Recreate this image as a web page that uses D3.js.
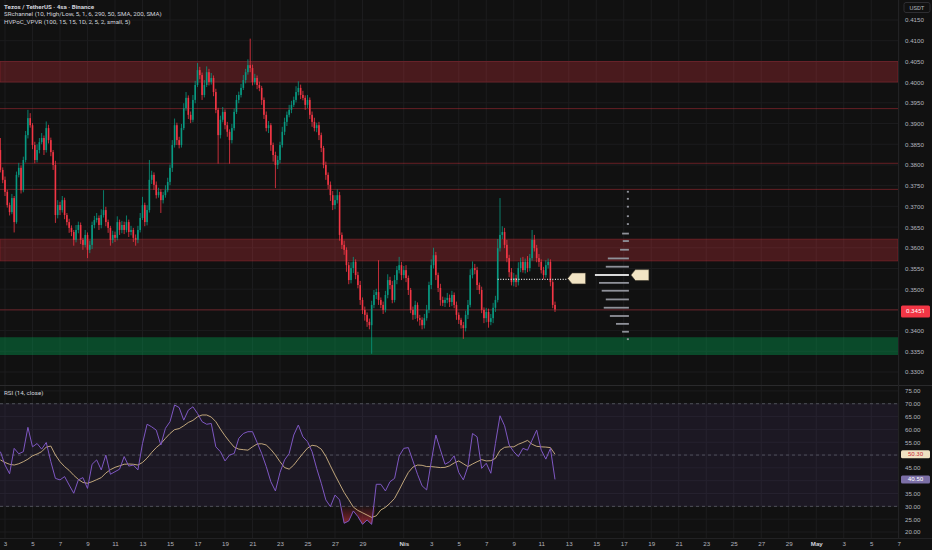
<!DOCTYPE html>
<html>
<head>
<meta charset="utf-8">
<script src="https://cdn.jsdelivr.net/npm/d3@7"></script>
<style>
  html, body { margin: 0; padding: 0; background: #111111; }
  svg { display: block; font-family: Roboto, "DejaVu Sans", sans-serif; }
</style>
</head>
<body>
<svg id="chart" width="932" height="550"></svg>
<script>
/* ── Data (prices in 1e-4 USDT) ─────────────────────────── */
const FIRST_BAR = Date.UTC(2025, 2, 2, 16);   // first 4h candle
const BAR_MS    = 4 * 3600e3;
const FIRST_OPEN = 3836;

const closes = [
  3788,3764,3735,3703,3686,3720,3662,3776,3793,3739,
  3812,3872,3913,3896,3848,3812,3836,3855,3865,3836,
  3889,3860,3831,3800,3679,3703,3691,3715,3679,3662,
  3648,3638,3619,3643,3655,3619,3607,3631,3595,3607,
  3655,3667,3672,3655,3679,3691,3662,3648,3619,3631,
  3624,3662,3643,3655,3643,3662,3638,3643,3624,3619,
  3643,3672,3703,3662,3691,3764,3776,3752,3727,3735,
  3715,3727,3739,3759,3793,3848,3896,3860,3848,3889,
  3937,3962,3921,3909,3957,3993,4029,4017,3969,3993,
  4024,4000,4010,3976,3933,3872,3909,3928,3896,3880,
  3860,3889,3928,3957,3969,3986,4005,4024,4041,4034,
  4000,4010,3993,3986,3957,3921,3889,3896,3848,3824,
  3800,3812,3848,3880,3904,3921,3933,3945,3957,3976,
  3986,3969,3962,3945,3957,3921,3904,3889,3896,3872,
  3841,3800,3776,3752,3727,3703,3715,3727,3631,3607,
  3595,3558,3522,3551,3566,3534,3510,3474,3450,3438,
  3421,3413,3462,3486,3493,3474,3462,3450,3486,3522,
  3510,3474,3522,3546,3558,3534,3546,3527,3498,3450,
  3438,3462,3430,3426,3413,3430,3450,3510,3558,3582,
  3534,3503,3474,3467,3474,3479,3469,3486,3462,3438,
  3426,3413,3406,3438,3462,3534,3551,3546,3510,3498,
  3450,3430,3445,3421,3430,3455,3474,3599,3631,3638,
  3607,3575,3541,3517,3527,3517,3551,3566,3546,3566,
  3551,3575,3619,3599,3575,3566,3546,3534,3558,3566,
  3517,3462,3451
];

// wick length above / below the body
const wickUp = [
  29,6,8,5,6,10,5,8,12,6,   8,10,20,12,5,8,14,10,12,6,
  16,8,6,5,10,12,8,10,6,5,  8,6,5,12,8,6,5,12,6,10,
  8,10,12,6,14,48,8,6,5,10, 8,14,6,10,8,16,6,10,5,8,
  10,12,20,6,12,48,10,6,8,10, 6,8,12,10,8,12,16,6,8,10,
  12,14,6,8,12,10,17,8,6,12, 14,8,12,6,8,5,10,12,6,8,
  6,10,8,12,8,10,12,8,14,64, 8,10,6,8,5,6,8,10,5,6,
  8,10,8,12,10,8,12,10,8,14, 16,8,10,6,12,6,8,10,6,8,
  6,5,8,6,8,10,12,14,8,6,   10,6,8,14,12,6,8,10,6,8,
  6,8,10,12,8,77,6,8,10,14, 8,10,12,10,20,8,10,12,6,5,
  8,10,6,8,6,10,12,8,14,18, 8,6,10,8,6,12,8,10,6,8,
  6,5,8,10,12,14,16,10,8,6, 8,6,10,8,10,12,10,22,89,14,
  10,12,8,10,12,8,14,10,12,8, 14,10,24,12,8,10,6,8,12,8,
  6,5,8
];
const wickDn = [
  6,8,10,6,8,5,25,4,6,8,    5,6,8,6,10,8,6,8,5,12,
  6,8,10,12,19,8,12,6,10,8, 12,10,14,6,8,10,12,6,20,8,
  10,8,6,12,8,6,10,12,14,8, 10,6,12,8,10,6,12,8,10,14,
  8,6,5,10,8,6,10,12,8,6,   31,8,6,5,8,10,6,12,8,6,
  5,6,10,8,6,8,5,10,12,6,   5,8,6,10,8,69,8,6,10,12,
  57,8,6,5,8,6,5,8,6,10,    8,6,10,8,12,10,8,12,14,16,
  56,10,8,6,8,10,6,8,5,6,   8,10,6,12,8,10,12,8,10,12,
  10,8,12,10,14,12,10,8,14,10, 12,16,10,8,12,10,8,12,10,14,
  12,10,69,8,10,12,8,10,6,8, 10,8,6,10,8,12,8,10,12,8,
  12,10,8,14,10,8,6,8,10,8, 12,10,14,8,10,8,12,10,8,12,
  10,8,26,8,10,6,8,10,12,10, 8,12,10,14,8,12,10,6,8,10,
  8,10,12,8,10,12,8,10,6,8, 10,8,6,8,10,12,8,10,6,8,
  10,8,6
];

// RSI(14) and its moving average, read at every second candle
const rsiVals = [
  51.3,46.1,42.7,52.6,50.5,51.3,60.8,53.2,54.5,52.3,
  54.9,47.4,40.9,40.3,41.6,38.3,35.1,40.3,41.2,37.0,
  46.4,48.1,44.2,50.0,42.5,43.5,44.5,49.4,45.7,46.1,
  44.2,54.5,62.0,61.0,59.7,53.9,60.4,63.0,69.5,68.5,
  63.6,67.5,68.8,66.2,63.0,62.0,62.3,53.2,51.3,47.7,
  50.0,50.6,56.5,58.4,59.1,59.1,54.9,50.6,45.5,39.6,
  36.0,43.2,48.1,50.6,57.8,61.7,57.1,55.2,51.3,44.8,
  39.0,32.5,29.9,34.4,32.5,23.4,24.3,28.2,26.0,23.0,
  24.7,23.0,38.6,38.6,36.0,39.6,40.9,49.6,52.6,52.9,
  47.7,42.5,38.0,36.4,47.4,57.8,52.0,46.4,47.4,49.7,
  43.2,40.3,45.5,58.4,57.1,44.8,46.8,42.9,54.5,65.3,
  61.4,53.9,51.3,49.4,52.6,51.9,55.8,59.7,51.9,48.4,
  52.6,40.5
];
const rsiMa = [
  48.1,47.1,46.4,46.1,46.6,47.4,48.4,49.7,50.4,51.3,
  53.1,53.5,50.0,47.4,45.5,44.0,42.1,40.5,39.3,39.0,
  39.6,40.4,41.2,43.0,44.3,45.2,45.8,46.4,46.5,46.4,
  46.1,47.1,48.8,51.0,52.9,54.4,56.5,58.4,59.9,60.3,
  61.4,62.7,63.5,64.9,65.6,65.6,64.8,63.0,60.1,57.5,
  55.2,53.1,52.3,52.1,51.9,53.2,54.3,54.4,53.9,52.2,
  50.0,47.4,45.1,44.5,46.1,48.4,50.6,52.7,53.8,53.5,
  52.3,49.5,45.8,42.2,38.8,35.4,32.6,29.7,28.4,27.5,
  26.6,25.7,26.3,28.6,29.6,31.2,33.1,36.4,39.9,43.2,
  45.3,46.1,46.0,45.5,45.5,45.3,45.1,45.2,45.8,46.9,
  47.7,46.6,45.5,46.5,47.4,48.2,47.7,47.8,48.7,51.8,
  53.0,53.2,53.2,54.2,54.9,55.7,54.2,53.4,53.2,53.1,
  52.9,50.3
];

// SR channel zones and lines
const resZones = [[0.4050, 0.4000], [0.3621, 0.3568]];
const supZones = [[0.3384, 0.3341]];
const srLines  = [0.3936, 0.3804, 0.3741, 0.3450];

// volume profile
const vpPrices = [0.3735,0.3718,0.3699,0.3676,0.3657,0.3634,0.3616,0.3595,0.3574,0.3554,
                  0.3534,0.3515,0.3496,0.3475,0.3455,0.3435,0.3416,0.3397,0.3379];
const vpVols   = [6,6,6,6,6,20,18,26,62,68,100,88,80,68,74,56,38,20,6];
const vpAnchor = Date.UTC(2025, 3, 17, 9);
const hvLevel  = { price: 0.3526, from: 217, to: Date.UTC(2025, 3, 12, 22) };

const monthNames = ["Oca","Şub","Mar","Nis","May","Haz","Tem","Ağu","Eyl","Eki","Kas","Ara"];
const priceTicks = d3.range(3300, 4151, 50).map(v => v / 1e4);
const rsiTicks   = d3.range(20, 76, 5);
const headerLines = [
  "Tezos / TetherUS · 4sa · Binance",
  "SRchannel (10, High/Low, 5, 1, 6, 290, 50, SMA, 200, SMA)",
  "HVPoC_VPVR (100, 15, 15, 1D, 2, 5, 2, small, 5)"
];

/* ── Layout ─────────────────────────────────────────────── */
const PLOT_R = 898;
const MAIN_B = 385, RSI_T = 386, RSI_B = 538;
const UP = '#089981', DOWN = '#f23645';
const GRID = '#1c1c1e', AXIS_TXT = '#b2b5be';

const svg = d3.select('#chart');
const barTime = i => new Date(FIRST_BAR + i * BAR_MS);

const x  = d3.scaleUtc().domain([Date.UTC(2025, 2, 3), Date.UTC(2025, 4, 7)]).range([5, 898.75]);
const y  = d3.scaleLinear().domain([0.4150, 0.3300]).range([20, 372]);
const yR = d3.scaleLinear().domain([75, 20]).range([390.9, 532]);

const candles = closes.map((c, i) => {
  const o = i === 0 ? FIRST_OPEN : closes[i - 1];
  return {
    t: barTime(i),
    o: o / 1e4, c: c / 1e4,
    h: (Math.max(o, c) + wickUp[i]) / 1e4,
    l: (Math.min(o, c) - wickDn[i]) / 1e4
  };
});
const rsiPts = rsiVals.map((v, k) => ({ t: barTime(k * 2), v, m: rsiMa[k] }));

const timeTicks = d3.utcDay.range(new Date(Date.UTC(2025, 2, 3)), new Date(Date.UTC(2025, 4, 8)))
  .filter(d => d.getUTCDate() === 1 || (d.getUTCDate() % 2 === 1 && d.getUTCDate() <= 29));

// last values shown as tags on the scales; tick labels under them are hidden
const lastClose = candles[candles.length - 1].c;
const lastMa    = rsiMa[rsiMa.length - 1];
const lastRsi   = rsiVals[rsiVals.length - 1];
const priceTagY = y(lastClose) + 2;
const rsiTagYs  = [yR(lastMa), yR(lastRsi)];
const priceLabelTicks = priceTicks.filter(p => Math.abs(y(p) - priceTagY) > 8);
const rsiLabelTicks   = rsiTicks.filter(v => rsiTagYs.every(ty => Math.abs(yR(v) - ty) > 6));

const defs = svg.append('defs');
defs.append('clipPath').attr('id', 'clip-main')
  .append('rect').attr('x', 0).attr('y', 0).attr('width', PLOT_R).attr('height', MAIN_B);
defs.append('clipPath').attr('id', 'clip-rsi')
  .append('rect').attr('x', 0).attr('y', RSI_T).attr('width', PLOT_R).attr('height', RSI_B - RSI_T);
const grad = defs.append('linearGradient').attr('id', 'os-grad')
  .attr('x1', 0).attr('y1', 0).attr('x2', 0).attr('y2', 1);
grad.append('stop').attr('offset', '0%').attr('stop-color', DOWN).attr('stop-opacity', 0.05);
grad.append('stop').attr('offset', '100%').attr('stop-color', DOWN).attr('stop-opacity', 0.55);

svg.append('rect').attr('width', 932).attr('height', 550).attr('fill', '#111111');

/* ── Grid ───────────────────────────────────────────────── */
const grid = svg.append('g');
grid.selectAll('.vg').data(timeTicks).enter().append('line')
  .attr('x1', d => x(d)).attr('x2', d => x(d))
  .attr('y1', 0).attr('y2', RSI_B)
  .attr('stroke', GRID).attr('stroke-width', 1);
grid.selectAll('.hg').data(priceTicks).enter().append('line')
  .attr('x1', 0).attr('x2', PLOT_R)
  .attr('y1', d => y(d)).attr('y2', d => y(d))
  .attr('stroke', GRID);
grid.selectAll('.rg').data(rsiTicks).enter().append('line')
  .attr('x1', 0).attr('x2', PLOT_R)
  .attr('y1', d => yR(d)).attr('y2', d => yR(d))
  .attr('stroke', GRID);

/* ── Main pane ──────────────────────────────────────────── */
const main = svg.append('g').attr('clip-path', 'url(#clip-main)');

main.selectAll('.rz').data(resZones).enter().append('rect')
  .attr('x', 0).attr('width', PLOT_R)
  .attr('y', d => y(d[0])).attr('height', d => y(d[1]) - y(d[0]))
  .attr('fill', 'rgba(242,54,69,0.25)')
  .attr('stroke', 'rgba(242,54,69,0.3)').attr('stroke-width', 0.8);
main.selectAll('.sz').data(supZones).enter().append('rect')
  .attr('x', 0).attr('width', PLOT_R)
  .attr('y', d => y(d[0])).attr('height', d => y(d[1]) - y(d[0]))
  .attr('fill', 'rgba(0,160,80,0.4)');
main.selectAll('.sl').data(srLines).enter().append('line')
  .attr('x1', 0).attr('x2', PLOT_R)
  .attr('y1', d => y(d)).attr('y2', d => y(d))
  .attr('stroke', 'rgba(242,54,69,0.38)').attr('stroke-width', 1);

// candles
const cg = main.append('g');
cg.selectAll('.wick').data(candles).enter().append('line')
  .attr('x1', d => x(d.t)).attr('x2', d => x(d.t))
  .attr('y1', d => y(d.h)).attr('y2', d => y(d.l))
  .attr('stroke', d => d.c >= d.o ? UP : DOWN).attr('stroke-width', 0.8);
cg.selectAll('.body').data(candles).enter().append('rect')
  .attr('x', d => x(d.t) - 0.8).attr('width', 1.6)
  .attr('y', d => y(Math.max(d.o, d.c)))
  .attr('height', d => Math.max(0.8, Math.abs(y(d.o) - y(d.c))))
  .attr('fill', d => d.c >= d.o ? UP : DOWN);

// high-volume level (dotted) with its tag
const tagPath = (tx, ty) => `M${tx},${ty} L${tx + 4.5},${ty - 5.5} L${tx + 18},${ty - 5.5} L${tx + 18},${ty + 5.5} L${tx + 4.5},${ty + 5.5} Z`;
const hvY = y(hvLevel.price);
main.append('line')
  .attr('x1', x(barTime(hvLevel.from))).attr('x2', x(new Date(hvLevel.to)))
  .attr('y1', hvY + 1).attr('y2', hvY + 1)
  .attr('stroke', '#e6e6e6').attr('stroke-width', 1.2).attr('stroke-dasharray', '1,1.6');
main.append('path').attr('d', tagPath(x(new Date(hvLevel.to)), hvY))
  .attr('fill', '#f2e4c4').attr('stroke', '#3a3428').attr('stroke-width', 0.6);

// volume profile
const vpW = d3.scaleLinear().domain([0, d3.max(vpVols)]).range([0, 34]);
const vpX = x(new Date(vpAnchor));
const pocIdx = vpVols.indexOf(d3.max(vpVols));
main.selectAll('.vp').data(vpPrices).enter().append('rect')
  .attr('x', (d, i) => vpX - vpW(vpVols[i])).attr('width', (d, i) => vpW(vpVols[i]))
  .attr('y', d => y(d) - 1).attr('height', 1.8)
  .attr('fill', (d, i) => i === pocIdx ? '#f0f0f0' : '#8f9199');
main.append('path').attr('d', tagPath(vpX + 2, y(vpPrices[pocIdx])))
  .attr('fill', '#f2e4c4').attr('stroke', '#3a3428').attr('stroke-width', 0.6);

/* ── RSI pane ───────────────────────────────────────────── */
const rsi = svg.append('g').attr('clip-path', 'url(#clip-rsi)');
rsi.append('rect').attr('x', 0).attr('width', PLOT_R)
  .attr('y', yR(70)).attr('height', yR(30) - yR(70))
  .attr('fill', 'rgba(126,87,194,0.1)');
rsi.selectAll('.lvl').data([70, 50, 30]).enter().append('line')
  .attr('x1', 0).attr('x2', PLOT_R)
  .attr('y1', d => yR(d)).attr('y2', d => yR(d))
  .attr('stroke', '#787b86').attr('stroke-opacity', 0.55)
  .attr('stroke-dasharray', '3,3');

const osArea = d3.area()
  .x(d => x(d.t)).y0(yR(30)).y1(d => yR(Math.min(d.v, 30)));
rsi.append('path').datum(rsiPts).attr('d', osArea).attr('fill', 'url(#os-grad)');
const obArea = d3.area()
  .x(d => x(d.t)).y0(yR(70)).y1(d => yR(Math.max(d.v, 70)));
rsi.append('path').datum(rsiPts).attr('d', obArea).attr('fill', 'rgba(8,153,129,0.4)');

rsi.append('path').datum(rsiPts)
  .attr('d', d3.line().x(d => x(d.t)).y(d => yR(d.m)))
  .attr('fill', 'none').attr('stroke', '#d2b584').attr('stroke-width', 0.9);
rsi.append('path').datum(rsiPts)
  .attr('d', d3.line().x(d => x(d.t)).y(d => yR(d.v)))
  .attr('fill', 'none').attr('stroke', '#7e57c2').attr('stroke-width', 1);

/* ── Separators ─────────────────────────────────────────── */
svg.append('line').attr('x1', 0).attr('x2', 932).attr('y1', MAIN_B + 0.5).attr('y2', MAIN_B + 0.5)
  .attr('stroke', '#2a2a2c');
svg.append('line').attr('x1', 0).attr('x2', 932).attr('y1', RSI_B + 0.5).attr('y2', RSI_B + 0.5)
  .attr('stroke', '#222224');
svg.append('line').attr('x1', PLOT_R + 0.5).attr('x2', PLOT_R + 0.5).attr('y1', 0).attr('y2', RSI_B)
  .attr('stroke', '#222224');

/* ── Axes ───────────────────────────────────────────────── */
function styleAxis(g) {
  g.select('.domain').remove();
  g.selectAll('.tick line').remove();
  g.selectAll('.tick text').attr('fill', AXIS_TXT).attr('font-size', 6.2);
}
svg.append('g').attr('transform', `translate(${PLOT_R + 4},0)`)
  .call(d3.axisRight(y).tickValues(priceLabelTicks).tickFormat(d3.format('.4f')).tickSize(0).tickPadding(3))
  .call(styleAxis);
svg.append('g').attr('transform', `translate(${PLOT_R + 4},0)`)
  .call(d3.axisRight(yR).tickValues(rsiLabelTicks).tickFormat(d3.format('.2f')).tickSize(0).tickPadding(3))
  .call(styleAxis);
svg.append('g').attr('transform', `translate(0,${RSI_B + 1})`)
  .call(d3.axisBottom(x).tickValues(timeTicks).tickSize(0).tickPadding(3)
    .tickFormat(d => d.getUTCDate() === 1 ? monthNames[d.getUTCMonth()] : d.getUTCDate()))
  .call(styleAxis)
  .call(g => g.selectAll('.tick text')
    .attr('font-weight', d => d.getUTCDate() === 1 ? 'bold' : null)
    .attr('fill', d => d.getUTCDate() === 1 ? '#d1d4dc' : AXIS_TXT));

/* ── Axis value labels ──────────────────────────────────── */
function axisTag(cy, text, bg, fg, h) {
  const g = svg.append('g');
  g.append('rect').attr('x', PLOT_R + 3).attr('y', cy - h / 2).attr('width', 29).attr('height', h)
    .attr('rx', 1.5).attr('fill', bg);
  g.append('text').attr('x', PLOT_R + 17.5).attr('y', cy).attr('text-anchor', 'middle')
    .attr('dominant-baseline', 'central').attr('font-size', 6.2).attr('fill', fg).text(text);
}
axisTag(priceTagY, d3.format('.4f')(lastClose), DOWN, '#ffffff', 12);
axisTag(rsiTagYs[0], d3.format('.2f')(lastMa), '#efe1c2', '#c8313f', 8);
axisTag(rsiTagYs[1], d3.format('.2f')(lastRsi), '#7b6fa6', '#ffffff', 8);

// currency box
svg.append('rect').attr('x', PLOT_R + 6).attr('y', 2.5).attr('width', 26).attr('height', 10)
  .attr('rx', 2).attr('fill', '#111111').attr('stroke', '#2e2e32');
svg.append('text').attr('x', PLOT_R + 19).attr('y', 7.7).attr('text-anchor', 'middle')
  .attr('dominant-baseline', 'central').attr('font-size', 6).attr('fill', AXIS_TXT).text('USDT');

/* ── Legends ────────────────────────────────────────────── */
svg.selectAll('.hdr').data(headerLines).enter().append('text')
  .attr('x', 4).attr('y', (d, i) => 6.5 + i * 7.5)
  .attr('dominant-baseline', 'central')
  .attr('font-size', 6.2)
  .attr('font-weight', (d, i) => i === 0 ? 'bold' : null)
  .attr('fill', '#d1d4dc').text(d => d);
svg.append('text').attr('x', 4).attr('y', RSI_T + 6.5).attr('dominant-baseline', 'central')
  .attr('font-size', 6.2).attr('fill', '#d1d4dc').text('RSI (14, close)');
</script>
</body>
</html>
